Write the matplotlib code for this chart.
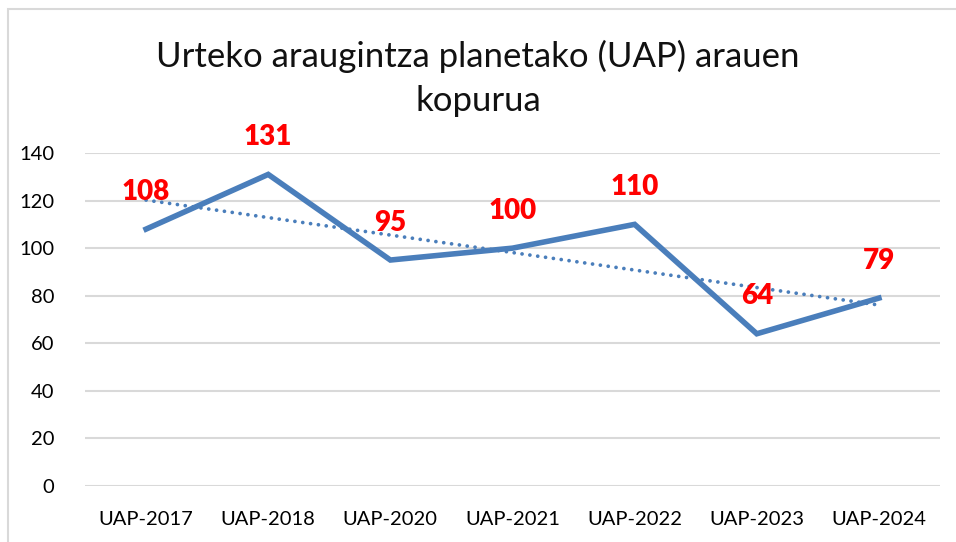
import matplotlib.pyplot as plt
import numpy as np
from matplotlib.patches import Rectangle

categories = ['UAP-2017', 'UAP-2018', 'UAP-2020', 'UAP-2021', 'UAP-2022', 'UAP-2023', 'UAP-2024']
values = [108, 131, 95, 100, 110, 64, 79]
yticks = [0, 20, 40, 60, 80, 100, 120, 140]

plt.rcParams['font.family'] = ['Lato', 'DejaVu Sans']

fig = plt.figure(figsize=(9.56, 5.42), dpi=100)
ax = fig.add_axes([85 / 956, 1 - 486 / 542, 855 / 956, 333 / 542])

x = np.arange(len(categories))
blue = '#4A7EBB'

# linear trendline like Excel
k, b = np.polyfit(x, values, 1)
ax.plot(x, k * x + b, color=blue, lw=2.7, linestyle=(0, (0.01, 2.1)),
        dash_capstyle='round', zorder=3)
ax.plot(x, values, color=blue, lw=4.0, solid_joinstyle='miter', zorder=4)

for xi, v in zip(x, values):
    ax.annotate(str(v), (xi, v), xytext=(0, 27), textcoords='offset points',
                ha='center', va='center', color='#FF0000', fontsize=20,
                fontweight='heavy', zorder=5)

ax.set_xlim(-0.5, len(categories) - 0.5)
ax.set_ylim(0, 140)
ax.set_yticks(yticks)
ax.set_xticks(x)
ax.set_xticklabels(categories)
ax.yaxis.grid(True, color='#D9D9D9', lw=1.5)
ax.set_axisbelow(True)
for s in ax.spines.values():
    s.set_visible(False)
ax.tick_params(length=0, labelsize=14.5, colors='#000000')
ax.tick_params(axis='y', pad=22)
ax.tick_params(axis='x', pad=18)

fig.text(0.5, 1 - 56 / 542, 'Urteko araugintza planetako (UAP) arauen',
         ha='center', va='center', fontsize=25, color='#111111')
fig.text(0.5, 1 - 101 / 542, 'kopurua', ha='center', va='center',
         fontsize=25, color='#111111')

# outer chart border
fig.patches.append(Rectangle((8 / 956, -0.05), 1.1, 1 - 9 / 542 + 0.05,
                             transform=fig.transFigure, fill=False,
                             edgecolor='#D9D9D9', lw=1.5))

fig.savefig('out.png', dpi=100)
plt.close()
